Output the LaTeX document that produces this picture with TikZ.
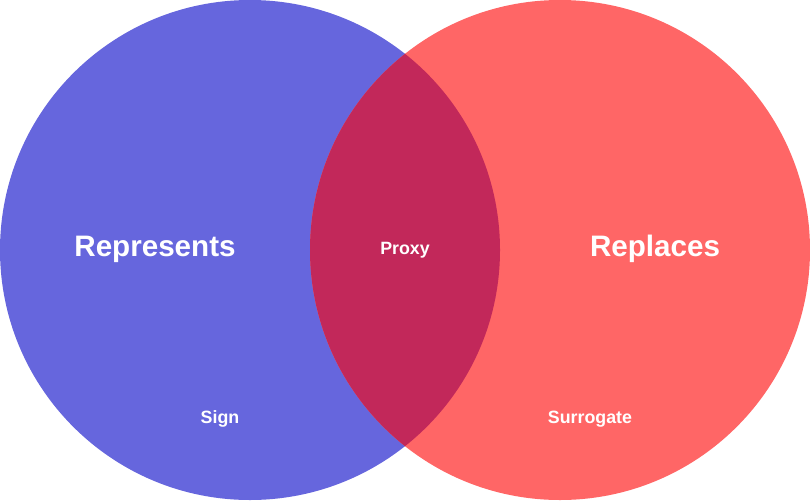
\documentclass[tikz,border=0pt]{standalone}
\usepackage{fontspec}
\setmainfont{Liberation Sans}
\definecolor{repblue}{RGB}{102,102,221}
\definecolor{repred}{RGB}{255,102,102}
\definecolor{overlap}{RGB}{194,40,90}
\begin{document}
\begin{tikzpicture}[x=1pt,y=-1pt,
  biglabel/.style={text=white,font=\fontsize{29.6}{34}\selectfont\bfseries,inner sep=0pt},
  smalllabel/.style={text=white,font=\fontsize{17.8}{21}\selectfont\bfseries,inner sep=0pt}]
  \useasboundingbox (0,0) rectangle (810,500);
  % the two sets
  \fill[repblue] (250,250) circle[radius=250];
  \fill[repred] (560,250) circle[radius=250];
  % their overlap
  \begin{scope}
    \clip (250,250) circle[radius=250];
    \fill[overlap] (560,250) circle[radius=250];
  \end{scope}
  % labels
  \node[biglabel] (represents) at (155,249) {Represents};
  \node[biglabel] (replaces) at (655,249) {Replaces};
  \node[smalllabel] (proxy) at (405,250) {Proxy};
  \node[smalllabel] (sign) at (220,419) {Sign};
  \node[smalllabel] (surrogate) at (590,419) {Surrogate};
\end{tikzpicture}
\end{document}
